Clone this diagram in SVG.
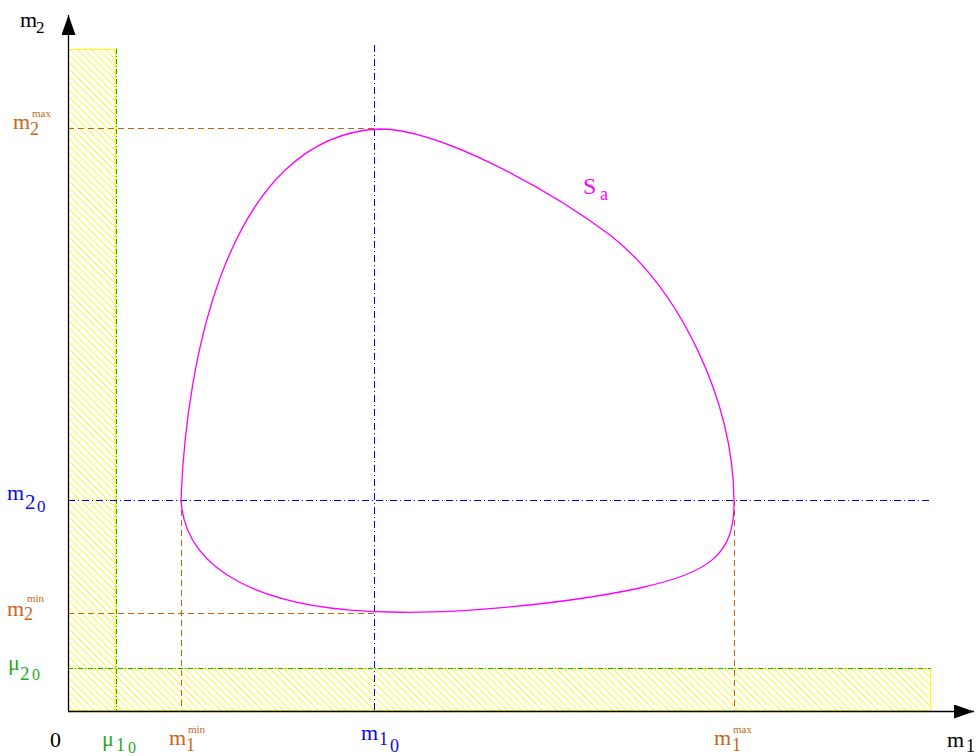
<svg xmlns="http://www.w3.org/2000/svg" width="976" height="756" viewBox="0 0 976 756">
<defs>
<pattern id="hatch" patternUnits="userSpaceOnUse" width="7" height="7">
<path d="M-1,-1 L8,8 M-1,6 L1,8 M6,-1 L8,1" stroke="#ffff00" stroke-width="1"/>
</pattern>
<marker id="arr" markerWidth="20" markerHeight="14" refX="20" refY="7" orient="auto" markerUnits="userSpaceOnUse">
<path d="M0,0 L20,7 L0,14 Z" fill="#000"/>
</marker>
</defs>
<style>
text{font-family:"Liberation Serif","Times New Roman",serif}
.o{fill:#c8661a}.b{fill:#0a0ae6}.g{fill:#1faa1f}.k{fill:#000}.mg{fill:#ff00ff}
.od{stroke:#c8620e;stroke-width:1;stroke-dasharray:6,4;fill:none}
.bd{stroke:#0000e0;stroke-width:1;stroke-dasharray:7,3,1,3;fill:none}
.gd{stroke:#11aa11;stroke-width:1;stroke-dasharray:5,2,1,2;fill:none}
</style>
<g id="zones">
<rect x="68.5" y="49.5" width="47" height="661" fill="url(#hatch)" stroke="#ffff00" stroke-width="1"/>
<rect x="68.5" y="668.5" width="862" height="42" fill="url(#hatch)" stroke="#ffff00" stroke-width="1"/>
</g>
<g id="connectors">
<line class="gd" x1="116.5" y1="49" x2="116.5" y2="711"/>
<line class="gd" x1="68" y1="668.5" x2="931" y2="668.5"/>
<line class="bd" x1="374.5" y1="45" x2="374.5" y2="711"/>
<line class="bd" x1="68" y1="500.5" x2="930" y2="500.5"/>
<line class="od" x1="68" y1="128.5" x2="374" y2="128.5"/>
<line class="od" x1="68" y1="613.5" x2="374" y2="613.5"/>
<line class="od" x1="181.5" y1="500" x2="181.5" y2="711"/>
<line class="od" x1="734.5" y1="500" x2="734.5" y2="711"/>
</g>
<g id="axes">
<line x1="68.5" y1="711" x2="68.5" y2="15" stroke="#000" stroke-width="1.3" marker-end="url(#arr)"/>
<line x1="68" y1="711.5" x2="974" y2="711.5" stroke="#000" stroke-width="1.3" marker-end="url(#arr)"/>
</g>
<g id="Sa">
<path d="M181,500 C186,360 228,135 380,129 C440,129 550,190 610,235 C680,290 733,400 734,500 C735,555 710,572 640,588 C560,605 450,614 390,612 C260,610 185,570 181,500 Z" fill="none" stroke="#ff00ff" stroke-width="1.3"/>
<text class="mg" x="583" y="194" font-size="24">S</text>
<text class="mg" x="600" y="200" font-size="18">a</text>
</g>
<g id="labels" font-size="22">
<text class="k" x="20" y="27">m</text><text class="k" x="36" y="33" font-size="17">2</text>
<text class="o" x="13" y="129">m</text><text class="o" x="30" y="135" font-size="18">2</text><text class="o" x="32" y="117" font-size="11">max</text>
<text class="b" x="7" y="500">m</text><text class="b" x="25" y="509" font-size="21">2</text><text class="b" x="37" y="512" font-size="17">0</text>
<text class="o" x="7" y="616">m</text><text class="o" x="24" y="620" font-size="18">2</text><text class="o" x="27" y="602" font-size="11">min</text>
<text class="g" x="8" y="670">μ</text><text class="g" x="20" y="680" font-size="19">2</text><text class="g" x="32" y="680" font-size="16">0</text>
<text class="k" x="50" y="747">0</text>
<text class="g" x="102" y="746">μ</text><text class="g" x="116" y="751" font-size="18">1</text><text class="g" x="128" y="753" font-size="16">0</text>
<text class="o" x="169" y="745">m</text><text class="o" x="186" y="751" font-size="18">1</text><text class="o" x="188" y="733" font-size="11">min</text>
<text class="b" x="361" y="740">m</text><text class="b" x="379" y="745" font-size="18">1</text><text class="b" x="390" y="752" font-size="18">0</text>
<text class="o" x="714" y="745">m</text><text class="o" x="732" y="751" font-size="18">1</text><text class="o" x="733" y="733" font-size="11">max</text>
<text class="k" x="947" y="747">m</text><text class="k" x="966" y="752" font-size="18">1</text>
</g>
</svg>
